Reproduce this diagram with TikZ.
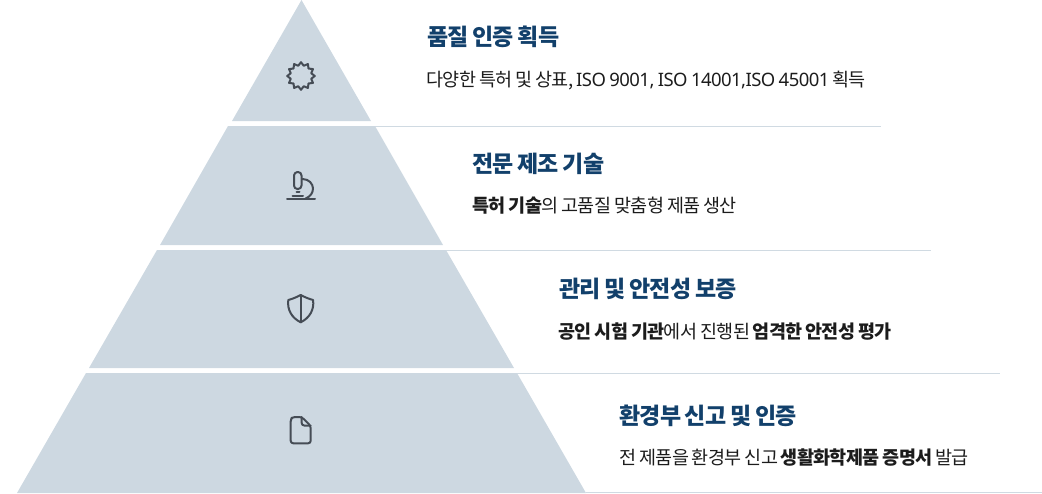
\documentclass[tikz,border=0pt]{standalone}
\usepackage{fontspec}
\setmainfont[LetterSpace=-3,WordSpace=0.8]{Noto Sans CJK KR}
\newfontfamily\latfont[LetterSpace=-3,WordSpace=0.8]{Noto Sans}
\definecolor{tierfill}{HTML}{CDD8E1}
\definecolor{rulecol}{HTML}{D0DAE2}
\definecolor{headcol}{HTML}{12406B}
\definecolor{iconcol}{HTML}{454C55}
\definecolor{bodycol}{HTML}{1C1C1C}
\tikzset{
  headtext/.style={anchor=base west,inner sep=0pt,font=\fontsize{23}{26}\selectfont\bfseries,text=headcol},
  bodytext/.style={anchor=base west,inner sep=0pt,font=\fontsize{18.5}{22}\selectfont,text=bodycol},
  iconline/.style={draw=iconcol,line width=2pt,line join=round,line cap=round},
  tierrule/.style={draw=rulecol,line width=0.9pt}
}
\begin{document}
\begin{tikzpicture}[x=1pt,y=-1pt,line join=round]
	\useasboundingbox (0,0) rectangle (1042,493);
	% pyramid
	\fill[tierfill] (301.5,0)--(371,121)--(232,121)--cycle;
	\fill[tierfill] (228,126)--(375,126)--(443,245)--(160,245)--cycle;
	\fill[tierfill] (157,250)--(446,250)--(514,368)--(89,368)--cycle;
	\fill[tierfill] (86,373)--(517,373)--(586,493)--(17,493)--cycle;
	% rules
	\draw[tierrule] (375,126.5)--(881,126.5);
	\draw[tierrule] (446,250.5)--(931,250.5);
	\draw[tierrule] (517,373.5)--(1000,373.5);
	\draw[tierrule] (586,492.5)--(1042,492.5);
	% icons
	\draw[iconline] plot[samples=25,domain=0:360] ({301+(12.2+1.6*cos(12*\x))*sin(\x)},{76+(12.2+1.6*cos(12*\x))*cos(\x)})--cycle;
	\draw[iconline,rounded corners=3.5pt] (294,189)--(294,172)--(301.5,172)--(301.5,189)--cycle;
	\draw[iconline] (296.5,192)--(299.5,192) (292.5,196)--(303,196) (287,199)--(315,199);
	\draw[iconline] (302.5,179) .. controls (309,179) and (313,184) .. (313,188.5) .. controls (313,193) and (310,197) .. (305.5,198.5);
	\draw[iconline] (300.7,295) .. controls (296,297.5) and (292,299) .. (288.3,300) .. controls (287,310) and (292,318) .. (300.7,322.3) .. controls (309.4,318) and (314.4,310) .. (313.1,300) .. controls (309.4,299) and (305.4,297.5) .. (300.7,295)--cycle;
	\draw[iconline] (300.7,295)--(300.7,322.3);
	\draw[iconline,rounded corners=2.5pt] (301.7,417)--(293,417)--(290.7,419)--(290.7,443.3)--(310.7,443.3)--(310.7,426)--cycle;
	\draw[iconline,rounded corners=2.5pt] (301.7,417)--(301.7,425.5)--(310.7,425.5);
	% texts
	\node[headtext] (head1) at (427,45) {품질 인증 획득};
	\node[bodytext] (body1) at (426,86) {다양한 특허 및 상표, {\latfont ISO 9001, ISO 14001,ISO 45001} 획득};
	\node[headtext] (head2) at (472,172) {전문 제조 기술};
	\node[bodytext] (body2) at (472,212) {\textbf{특허 기술}의 고품질 맞춤형 제품 생산};
	\node[headtext] (head3) at (559,297) {관리 및 안전성 보증};
	\node[bodytext] (body3) at (558,338) {\textbf{공인 시험 기관}에서 진행된 \textbf{엄격한 안전성 평가}};
	\node[headtext] (head4) at (619,424) {환경부 신고 및 인증};
	\node[bodytext] (body4) at (619,464) {전 제품을 환경부 신고 \textbf{생활화학제품 증명서} 발급};
\end{tikzpicture}
\end{document}
